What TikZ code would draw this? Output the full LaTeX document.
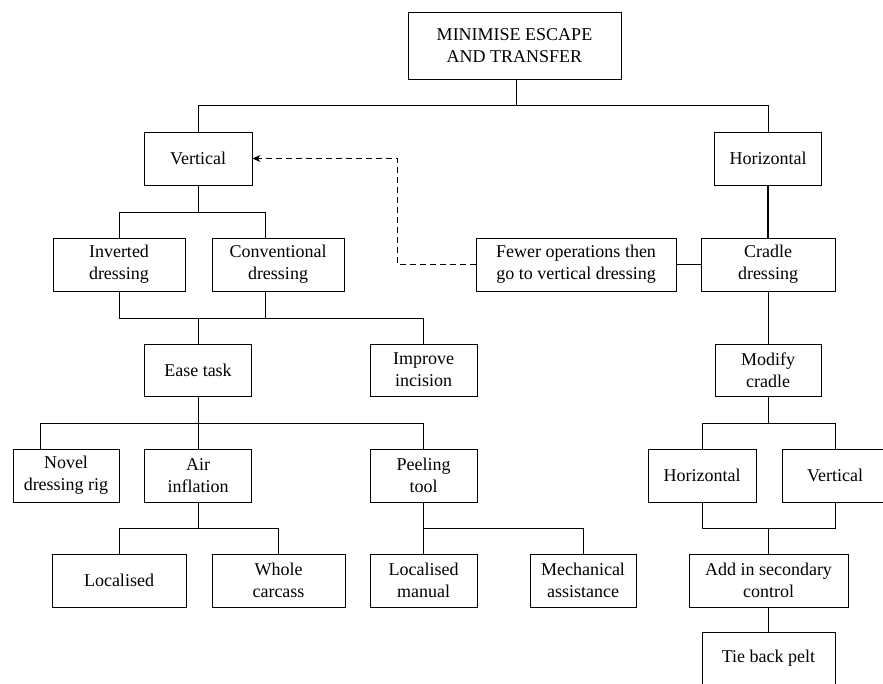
\documentclass[tikz,border=0pt]{standalone}
\usepackage{fontspec}
\setmainfont{Liberation Serif}
\usetikzlibrary{arrows.meta}
\begin{document}
\begin{tikzpicture}[x=1pt,y=-1pt,
  box/.style={draw, line width=0.9pt, inner sep=0pt, align=center,
    font=\fontsize{18}{22}\selectfont, minimum height=53pt},
  link/.style={line width=0.9pt},
  dash link/.style={line width=0.9pt, dash pattern=on 6pt off 4pt}]
\useasboundingbox (0,0) rectangle (883,684);
\clip (0,0) rectangle (883,684);
\fill[white] (0,0) rectangle (883,684);

% nodes
\node[box, minimum width=213pt, minimum height=67pt] (top) at (514.5,45.5) {MINIMISE ESCAPE\\AND TRANSFER};
\node[box, minimum width=108pt] (vert) at (198,158.5) {Vertical};
\node[box, minimum width=107pt] (horiz) at (768,158.5) {Horizontal};
\node[box, minimum width=132pt] (inv) at (119,264.5) {Inverted\\dressing};
\node[box, minimum width=132pt] (conv) at (278,264.5) {Conventional\\dressing};
\node[box, minimum width=200pt] (fewer) at (576,264.5) {Fewer operations then\\go to vertical dressing};
\node[box, minimum width=134pt] (cradle) at (768,264.5) {Cradle\\dressing};
\node[box, minimum width=107pt, minimum height=52pt] (ease) at (198,370) {Ease task};
\node[box, minimum width=107pt, minimum height=52pt] (improve) at (423.5,370) {Improve\\incision};
\node[box, minimum width=106pt, minimum height=52pt] (modify) at (768,370) {Modify\\cradle};
\node[box, minimum width=106pt] (novel) at (66,475.5) {Novel\\dressing rig};
\node[box, minimum width=107pt] (air) at (198,475.5) {Air\\inflation};
\node[box, minimum width=107pt] (peel) at (423.5,475.5) {Peeling\\tool};
\node[box, minimum width=108pt] (horiz2) at (702,475.5) {Horizontal};
\node[box, minimum width=106pt] (vert2) at (835,475.5) {Vertical};
\node[box, minimum width=134pt] (loc) at (119,580.5) {Localised};
\node[box, minimum width=133pt] (whole) at (278.5,580.5) {Whole\\carcass};
\node[box, minimum width=107pt] (locman) at (423.5,580.5) {Localised\\manual};
\node[box, minimum width=106pt] (mech) at (583,580.5) {Mechanical\\assistance};
\node[box, minimum width=159pt] (add) at (768.5,580.5) {Add in secondary\\control};
\node[box, minimum width=133pt] (tie) at (768.5,658.5) {Tie back pelt};

% junction coordinates
\coordinate (j1) at (516,105);
\coordinate (j2) at (198,212);
\coordinate (j3) at (198,318);
\coordinate (j4) at (198,423);
\coordinate (j5) at (198,528);
\coordinate (j6) at (423.5,528);
\coordinate (j7) at (768,423);
\coordinate (j8) at (768.5,528);
\coordinate (d1) at (397,264.5);
\coordinate (d2) at (397,158.5);

% top level
\draw[link] (top.south -| j1) -- (j1);
\draw[link] (vert.north) -- (vert.north |- j1) -- (horiz.north |- j1) -- (horiz.north);

% vertical branch
\draw[link] (vert.south) -- (j2);
\draw[link] (inv.north) -- (inv.north |- j2) -- (265,212) -- (conv.north -| 265,0);
\draw[link] (inv.south) -- (inv.south |- j3) -- (improve.north |- j3) -- (improve.north);
\draw[link] (conv.south -| 265,0) -- (265,318);
\draw[link] (j3) -- (ease.north);

% ease task branch
\draw[link] (ease.south) -- (j4);
\draw[link] (novel.north -| 40,0) -- (40,423) -- (peel.north |- j4) -- (peel.north);
\draw[link] (j4) -- (air.north);

% air inflation branch
\draw[link] (air.south) -- (j5);
\draw[link] (loc.north) -- (loc.north |- j5) -- (whole.north |- j5) -- (whole.north);

% peeling tool branch
\draw[link] (peel.south) -- (locman.north);
\draw[link] (j6) -- (mech.north |- j6) -- (mech.north);

% horizontal branch
\draw[line width=1.3pt] (horiz.south) -- (cradle.north);
\draw[link] (fewer.east) -- (cradle.west);
\draw[dash link, -{Stealth[length=8pt,width=7pt]}] (fewer.west) -- (d1) -- (d2) -- (vert.east);
\draw[link] (cradle.south) -- (modify.north);
\draw[link] (modify.south) -- (j7);
\draw[link] (horiz2.north) -- (horiz2.north |- j7) -- (vert2.north |- j7) -- (vert2.north);
\draw[link] (horiz2.south) -- (horiz2.south |- j8) -- (vert2.south |- j8) -- (vert2.south);
\draw[link] (j8) -- (add.north);
\draw[link] (add.south) -- (tie.north);
\end{tikzpicture}
\end{document}
